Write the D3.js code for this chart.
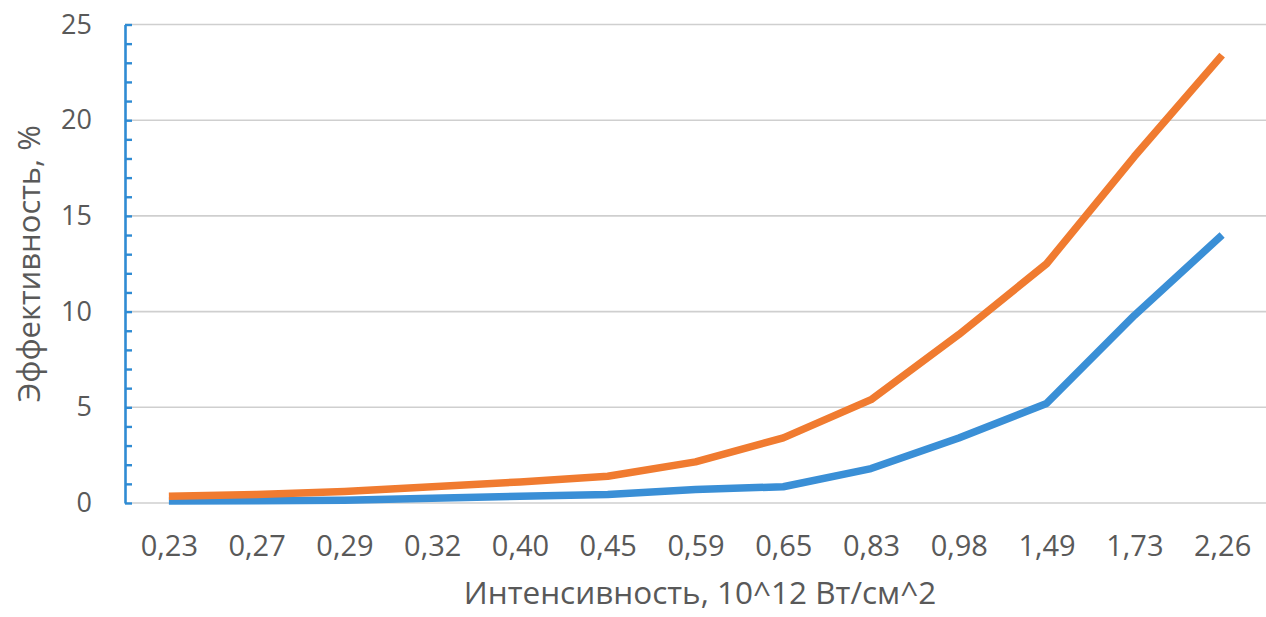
<!DOCTYPE html>
<html>
<head>
<meta charset="utf-8">
<script src="https://cdn.jsdelivr.net/npm/d3@7"></script>
<style>
  html, body { margin: 0; padding: 0; background: #fff; }
  svg { display: block; }
</style>
</head>
<body>
<svg id="chart" width="1266" height="617"></svg>
<script>
const categories = ["0,23","0,27","0,29","0,32","0,40","0,45","0,59","0,65","0,83","0,98","1,49","1,73","2,26"];
const seriesBlue = [0.1, 0.12, 0.15, 0.25, 0.35, 0.45, 0.7, 0.85, 1.8, 3.4, 5.2, 9.8, 14.0];
const seriesOrange = [0.35, 0.45, 0.6, 0.85, 1.1, 1.4, 2.15, 3.4, 5.4, 8.8, 12.5, 18.1, 23.4];
const yTicks = [0, 5, 10, 15, 20, 25];
const yMinorTicks = d3.range(0, 26, 1);
const xTitle = "Интенсивность, 10^12 Вт/см^2";
const yTitle = "Эффективность, %";

const svg = d3.select("#chart");
const mLeft = 125, mRight = 1266, mTop = 24.5, mBottom = 503;
const font = "'Open Sans', 'Noto Sans', sans-serif";
const textColor = "#595959";

const x = d3.scalePoint().domain(categories).range([mLeft, mRight]).padding(0.5);
const y = d3.scaleLinear().domain([0, 25]).range([mBottom, mTop]);

// gridlines
svg.append("g").selectAll("line").data(yTicks).join("line")
  .attr("x1", mLeft).attr("x2", mRight)
  .attr("y1", d => y(d)).attr("y2", d => y(d))
  .attr("stroke", "#cfcfcf").attr("stroke-width", 1.6);

// y tick labels
const yLab = svg.append("g").attr("transform", `translate(${mLeft},0)`)
  .call(d3.axisLeft(y).tickValues(yTicks).tickSize(0).tickPadding(33).tickFormat(d3.format("d")));
yLab.select(".domain").remove();
yLab.selectAll("text").attr("font-family", font).attr("font-size", 27).attr("fill", textColor);

// y axis line with minor ticks pointing inward
const yAx = svg.append("g").attr("transform", `translate(${mLeft},0)`)
  .call(d3.axisRight(y).tickValues(yMinorTicks).tickSizeInner(7).tickSizeOuter(0).tickFormat(""));
yAx.select(".domain").attr("stroke", "#2f8bd3").attr("stroke-width", 2.6);
yAx.selectAll(".tick line").attr("stroke", "#2f8bd3").attr("stroke-width", 2.4);

// x labels
const xAx = svg.append("g").attr("transform", `translate(0,${mBottom})`)
  .call(d3.axisBottom(x).tickSize(0).tickPadding(32));
xAx.select(".domain").remove();
xAx.selectAll("text").attr("font-family", font).attr("font-size", 29).attr("fill", textColor);

// lines
const line = d3.line().x((d, i) => x(categories[i])).y(d => y(d));
svg.append("path").datum(seriesBlue)
  .attr("d", line).attr("fill", "none")
  .attr("stroke", "#3a8fd6").attr("stroke-width", 7.5).attr("stroke-linejoin", "round");
svg.append("path").datum(seriesOrange)
  .attr("d", line).attr("fill", "none")
  .attr("stroke", "#f07b30").attr("stroke-width", 7.5).attr("stroke-linejoin", "round");

// axis titles
svg.append("text").text(xTitle)
  .attr("x", 700).attr("y", 604)
  .attr("text-anchor", "middle")
  .attr("font-family", font).attr("font-size", 31.5).attr("fill", textColor);

svg.append("text").text(yTitle)
  .attr("transform", `translate(40,${(mTop + mBottom) / 2}) rotate(-90)`)
  .attr("text-anchor", "middle")
  .attr("font-family", font).attr("font-size", 31).attr("fill", textColor);
</script>
</body>
</html>
